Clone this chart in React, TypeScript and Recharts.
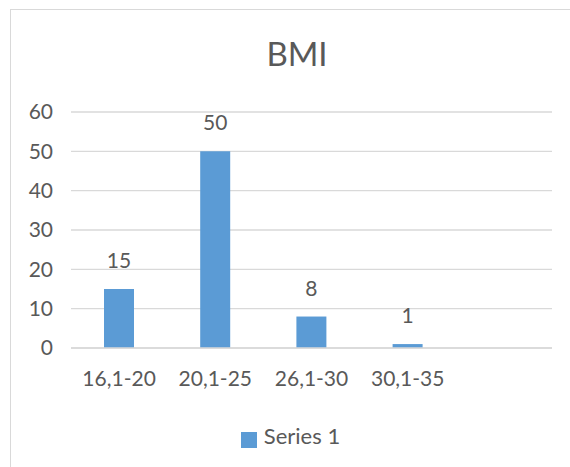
import { BarChart, Bar, XAxis, YAxis, CartesianGrid, Legend, LabelList } from "recharts";

const categories = ["16,1-20", "20,1-25", "26,1-30", "30,1-35", ""];
const series1 = [15, 50, 8, 1, null];
const yTicks = [0, 10, 20, 30, 40, 50, 60];

const TEXT = "#595959";
const BLUE = "#5B9BD5";
const FONT = "Lato, 'Open Sans', sans-serif";

const data = categories.map((name, i) => ({ name, "Series 1": series1[i] }));

function TopLabel(props: any) {
  const { x, y, width, value } = props;
  if (value == null) return null;
  return (
    <text x={x + width / 2} y={y - 21} textAnchor="middle" fill={TEXT} fontSize={21} fontFamily={FONT}>
      {value}
    </text>
  );
}

export default function App() {
  return (
    <div style={{ position: "absolute", left: 0, top: 0, width: 570, height: 467, background: "#fff", fontFamily: FONT }}>
      <div
        style={{
          position: "absolute",
          left: 10,
          top: 9,
          width: 570,
          height: 470,
          border: "1px solid #d9d9d9",
          boxSizing: "border-box",
        }}
      />
      <div
        style={{
          position: "absolute",
          left: 197,
          width: 200,
          top: 33,
          textAlign: "center",
          fontSize: 33,
          lineHeight: "40px",
          color: TEXT,
        }}
      >
        BMI
      </div>
      <BarChart
        width={570}
        height={467}
        data={data}
        margin={{ top: 112, right: 18, left: 11, bottom: 18 }}
        style={{ position: "absolute", left: 0, top: 0 }}
      >
        <CartesianGrid vertical={false} stroke="#d9d9d9" strokeWidth={1.3} />
        <XAxis
          dataKey="name"
          axisLine={{ stroke: "#d9d9d9", strokeWidth: 1.3 }}
          tickLine={false}
          tickMargin={17}
          height={74}
          interval={0}
          tick={{ fill: TEXT, fontSize: 21, fontFamily: FONT }}
        />
        <YAxis
          domain={[0, 60]}
          ticks={yTicks}
          width={60}
          axisLine={false}
          tickLine={false}
          tickMargin={12}
          tick={{ fill: TEXT, fontSize: 21, fontFamily: FONT }}
        />
        <Legend
          verticalAlign="bottom"
          iconType="square"
          iconSize={16}
          wrapperStyle={{ left: 25 }}
          formatter={(v: string) => <span style={{ color: TEXT, fontSize: 22, paddingLeft: 3 }}>{v}</span>}
        />
        <Bar dataKey="Series 1" fill={BLUE} barSize={30} isAnimationActive={false}>
          <LabelList dataKey="Series 1" content={TopLabel} />
        </Bar>
      </BarChart>
    </div>
  );
}
